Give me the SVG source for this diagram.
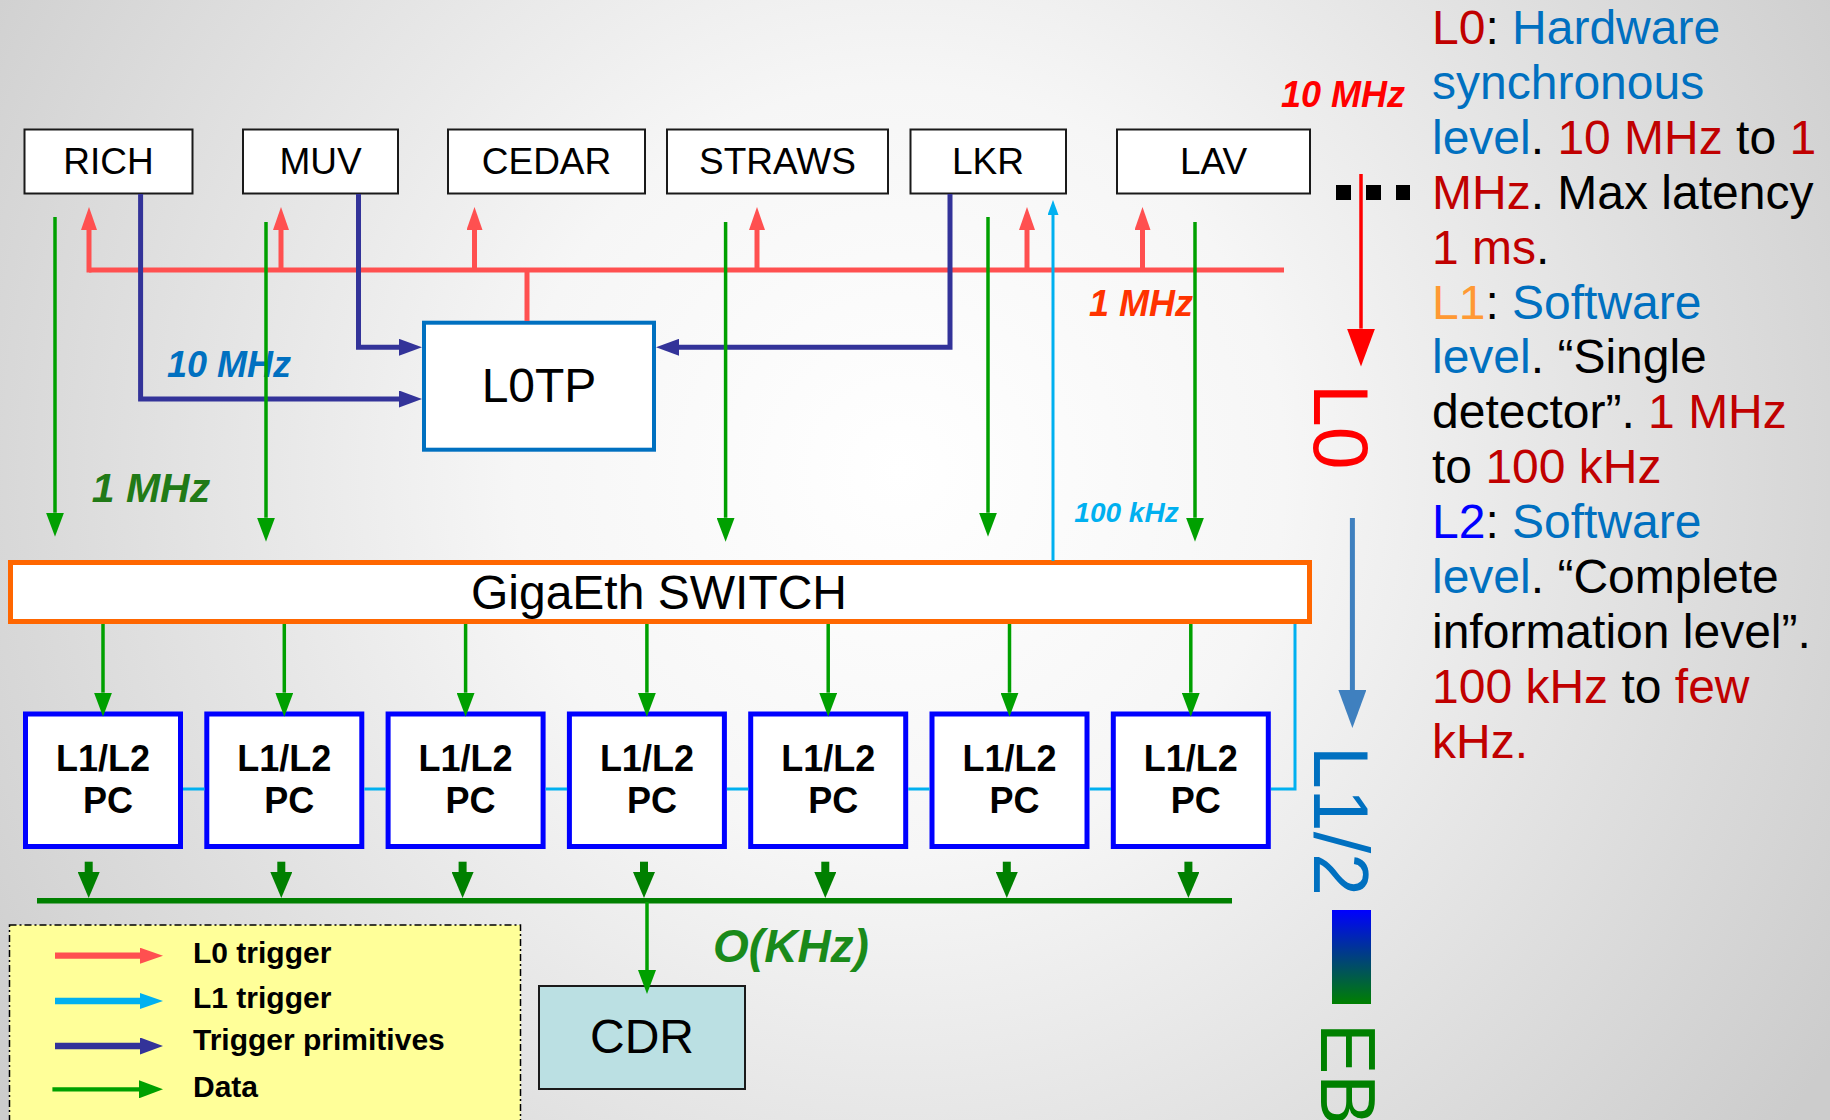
<svg xmlns="http://www.w3.org/2000/svg" width="1830" height="1120" viewBox="0 0 1830 1120">
<defs>
<radialGradient id="bg" gradientUnits="userSpaceOnUse" cx="900" cy="470" r="1100">
<stop offset="0" stop-color="#ffffff"/>
<stop offset="0.35" stop-color="#f6f6f6"/>
<stop offset="1" stop-color="#cccccc"/>
</radialGradient>
<linearGradient id="ebgrad" x1="0" y1="0" x2="0" y2="1">
<stop offset="0" stop-color="#0000ff"/>
<stop offset="1" stop-color="#008000"/>
</linearGradient>
<marker id="mRed" markerUnits="userSpaceOnUse" markerWidth="23" markerHeight="16" refX="0" refY="8" orient="auto" viewBox="0 0 23 16"><path d="M0,0 L23,8 L0,16 z" fill="#ff5050"/></marker>
<marker id="mNavy" markerUnits="userSpaceOnUse" markerWidth="23" markerHeight="17" refX="0" refY="8.5" orient="auto" viewBox="0 0 23 17"><path d="M0,0 L23,8.5 L0,17 z" fill="#333399"/></marker>
<marker id="mGreen" markerUnits="userSpaceOnUse" markerWidth="24" markerHeight="18" refX="0" refY="9" orient="auto" viewBox="0 0 24 18"><path d="M0,0 L24,9 L0,18 z" fill="#00a000"/></marker>
<marker id="mCyanS" markerUnits="userSpaceOnUse" markerWidth="15" markerHeight="11" refX="0" refY="5.5" orient="auto" viewBox="0 0 15 11"><path d="M0,0 L15,5.5 L0,11 z" fill="#00b0f0"/></marker>
<marker id="mCyan" markerUnits="userSpaceOnUse" markerWidth="23" markerHeight="16" refX="0" refY="8" orient="auto" viewBox="0 0 23 16"><path d="M0,0 L23,8 L0,16 z" fill="#00b0f0"/></marker>
<marker id="mDkGreen" markerUnits="userSpaceOnUse" markerWidth="26" markerHeight="22" refX="0" refY="11" orient="auto" viewBox="0 0 26 22"><path d="M0,0 L26,11 L0,22 z" fill="#008000"/></marker>
<marker id="mBigRed" markerUnits="userSpaceOnUse" markerWidth="38" markerHeight="28" refX="0" refY="14" orient="auto" viewBox="0 0 38 28"><path d="M0,0 L38,14 L0,28 z" fill="#ff0000"/></marker>
<marker id="mBigBlue" markerUnits="userSpaceOnUse" markerWidth="38" markerHeight="28" refX="0" refY="14" orient="auto" viewBox="0 0 38 28"><path d="M0,0 L38,14 L0,28 z" fill="#3f80bf"/></marker>
</defs>
<style>
text { font-family: "Liberation Sans", Arial, sans-serif; }
.det { fill: #ffffff; stroke: #1a1a1a; stroke-width: 2; }
.detT { font-size: 37px; fill: #000; text-anchor: middle; }
.pc { fill: #ffffff; stroke: #0000ff; stroke-width: 5; }
.pcT { font-size: 36px; font-weight: bold; fill: #000; text-anchor: middle; }
.rate { font-weight: bold; font-style: italic; text-anchor: middle; }
.red { fill: none; stroke: #ff5050; stroke-width: 5; }
.navy { fill: none; stroke: #333399; stroke-width: 5; }
.grn { fill: none; stroke: #00a000; stroke-width: 3.5; }
.cyan { fill: none; stroke: #00b0f0; stroke-width: 3; }
.dkg { fill: none; stroke: #008000; }
.vert { font-size: 77px; }
.side { font-size: 48px; fill: #000; }
.r { fill: #c00000; }
.b { fill: #0070c0; }
.legT { font-size: 30px; font-weight: bold; fill: #000; }
</style>
<rect x="0" y="0" width="1830" height="1120" fill="url(#bg)"/>

<g id="legend">
<rect x="9.5" y="925" width="511" height="210" fill="#ffff99" stroke="#000" stroke-width="1.5" stroke-dasharray="7 3 2 3"/>
<path d="M55,955.7 H140" stroke="#ff5050" stroke-width="6.3" fill="none" marker-end="url(#mRed)"/>
<path d="M55,1001 H140" stroke="#00b0f0" stroke-width="6.3" fill="none" marker-end="url(#mCyan)"/>
<path d="M55,1046 H140" stroke="#333399" stroke-width="6.3" fill="none" marker-end="url(#mNavy)"/>
<path d="M52.4,1089.3 H139" stroke="#00a000" stroke-width="4.3" fill="none" marker-end="url(#mGreen)"/>
<text class="legT" x="193" y="962.7">L0 trigger</text>
<text class="legT" x="193" y="1008.3">L1 trigger</text>
<text class="legT" x="193" y="1050">Trigger primitives</text>
<text class="legT" x="193" y="1096.7">Data</text>
</g>

<g id="detectors">
<g id="RICH"><rect class="det" x="24.5" y="129.5" width="168" height="64"/><text class="detT" x="108.5" y="174">RICH</text></g>
<g id="MUV"><rect class="det" x="243" y="129.5" width="155" height="64"/><text class="detT" x="320.5" y="174">MUV</text></g>
<g id="CEDAR"><rect class="det" x="448" y="129.5" width="197" height="64"/><text class="detT" x="546.5" y="174">CEDAR</text></g>
<g id="STRAWS"><rect class="det" x="667" y="129.5" width="221" height="64"/><text class="detT" x="777.5" y="174">STRAWS</text></g>
<g id="LKR"><rect class="det" x="910.5" y="129.5" width="155.5" height="64"/><text class="detT" x="988" y="174">LKR</text></g>
<g id="LAV"><rect class="det" x="1117" y="129.5" width="193" height="64"/><text class="detT" x="1213.5" y="174">LAV</text></g>
</g>

<g id="L0TP"><rect x="424" y="322.7" width="230" height="127" fill="#ffffff" stroke="#0070c0" stroke-width="4"/><text x="539" y="401.7" font-size="48" text-anchor="middle" fill="#000">L0TP</text></g>

<g id="switch"><rect x="10.5" y="562.5" width="1299" height="59" fill="#ffffff" stroke="#ff6600" stroke-width="5"/><text x="659" y="609" font-size="48" text-anchor="middle" fill="#000">GigaEth SWITCH</text></g>

<g id="pcs">
<g id="pc1"><rect class="pc" x="25.5" y="714" width="155" height="132.5"/><text class="pcT" x="103" y="771">L1/L2</text><text class="pcT" x="108" y="813">PC</text></g>
<g id="pc2"><rect class="pc" x="206.8" y="714" width="155" height="132.5"/><text class="pcT" x="284.3" y="771">L1/L2</text><text class="pcT" x="289.3" y="813">PC</text></g>
<g id="pc3"><rect class="pc" x="388.1" y="714" width="155" height="132.5"/><text class="pcT" x="465.6" y="771">L1/L2</text><text class="pcT" x="470.6" y="813">PC</text></g>
<g id="pc4"><rect class="pc" x="569.4" y="714" width="155" height="132.5"/><text class="pcT" x="646.9" y="771">L1/L2</text><text class="pcT" x="651.9" y="813">PC</text></g>
<g id="pc5"><rect class="pc" x="750.7" y="714" width="155" height="132.5"/><text class="pcT" x="828.2" y="771">L1/L2</text><text class="pcT" x="833.2" y="813">PC</text></g>
<g id="pc6"><rect class="pc" x="932" y="714" width="155" height="132.5"/><text class="pcT" x="1009.5" y="771">L1/L2</text><text class="pcT" x="1014.5" y="813">PC</text></g>
<g id="pc7"><rect class="pc" x="1113.3" y="714" width="155" height="132.5"/><text class="pcT" x="1190.8" y="771">L1/L2</text><text class="pcT" x="1195.8" y="813">PC</text></g>
</g>

<g id="CDR"><rect x="539" y="986" width="206" height="103" fill="#bbe0e3" stroke="#1a1a1a" stroke-width="2"/><text x="642" y="1053" font-size="48" text-anchor="middle" fill="#000">CDR</text></g>

<g id="rate-labels">
<text class="rate" x="229" y="377" font-size="36" fill="#0070c0">10 MHz</text>
<text class="rate" x="151" y="502" font-size="41" fill="#217a17">1 MHz</text>
<text class="rate" x="1141" y="316" font-size="36" fill="#ff3300">1 MHz</text>
<text class="rate" x="1343" y="106.7" font-size="36" fill="#ff0000">10 MHz</text>
<text class="rate" x="1126.5" y="521.7" font-size="28" fill="#00b0f0">100 kHz</text>
<text class="rate" x="791" y="962" font-size="46" fill="#1a8a1a">O(KHz)</text>
</g>

<g id="connectors">
<line class="red" x1="89" y1="270" x2="1284" y2="270"/>
<path class="red" d="M89,272.5 V230" marker-end="url(#mRed)"/>
<path class="red" d="M281,270 V230" marker-end="url(#mRed)"/>
<path class="red" d="M474.5,270 V230" marker-end="url(#mRed)"/>
<path class="red" d="M757,270 V230" marker-end="url(#mRed)"/>
<path class="red" d="M1027,270 V230" marker-end="url(#mRed)"/>
<path class="red" d="M1142.5,270 V230" marker-end="url(#mRed)"/>
<line class="red" x1="527" y1="270" x2="527" y2="321"/>

<path class="navy" d="M140.6,194 V399 H399" marker-end="url(#mNavy)"/>
<path class="navy" d="M358.5,194 V347.3 H399" marker-end="url(#mNavy)"/>
<path class="navy" d="M950,194 V347.3 H679" marker-end="url(#mNavy)"/>

<path class="grn" d="M55,217 V512.7" marker-end="url(#mGreen)"/>
<path class="grn" d="M266,222 V517.7" marker-end="url(#mGreen)"/>
<path class="grn" d="M725.6,222 V517.7" marker-end="url(#mGreen)"/>
<path class="grn" d="M988,217 V512.7" marker-end="url(#mGreen)"/>
<path class="grn" d="M1195,222 V517.7" marker-end="url(#mGreen)"/>

<path class="cyan" d="M1053,561 V215" marker-end="url(#mCyanS)"/>
<path class="cyan" d="M1295,624 V789 H1271"/>
<line class="cyan" x1="183" y1="789" x2="204.5" y2="789"/>
<line class="cyan" x1="364.3" y1="789" x2="385.8" y2="789"/>
<line class="cyan" x1="545.6" y1="789" x2="567.1" y2="789"/>
<line class="cyan" x1="726.9" y1="789" x2="748.4" y2="789"/>
<line class="cyan" x1="908.2" y1="789" x2="929.7" y2="789"/>
<line class="cyan" x1="1089.5" y1="789" x2="1111" y2="789"/>

<path class="grn" d="M103,624 V692.7" marker-end="url(#mGreen)"/>
<path class="grn" d="M284.3,624 V692.7" marker-end="url(#mGreen)"/>
<path class="grn" d="M465.6,624 V692.7" marker-end="url(#mGreen)"/>
<path class="grn" d="M646.9,624 V692.7" marker-end="url(#mGreen)"/>
<path class="grn" d="M828.2,624 V692.7" marker-end="url(#mGreen)"/>
<path class="grn" d="M1009.5,624 V692.7" marker-end="url(#mGreen)"/>
<path class="grn" d="M1190.8,624 V692.7" marker-end="url(#mGreen)"/>

<path class="dkg" stroke-width="8" d="M88.7,861.7 V872" marker-end="url(#mDkGreen)"/>
<path class="dkg" stroke-width="8" d="M281.3,861.7 V872" marker-end="url(#mDkGreen)"/>
<path class="dkg" stroke-width="8" d="M462.6,861.7 V872" marker-end="url(#mDkGreen)"/>
<path class="dkg" stroke-width="8" d="M644,861.7 V872" marker-end="url(#mDkGreen)"/>
<path class="dkg" stroke-width="8" d="M825.3,861.7 V872" marker-end="url(#mDkGreen)"/>
<path class="dkg" stroke-width="8" d="M1006.8,861.7 V872" marker-end="url(#mDkGreen)"/>
<path class="dkg" stroke-width="8" d="M1188.4,861.7 V872" marker-end="url(#mDkGreen)"/>
<line class="dkg" stroke-width="5.5" x1="37" y1="900.7" x2="1232" y2="900.7"/>
<path class="grn" stroke-width="4" d="M647,902 V970" marker-end="url(#mGreen)"/>
</g>

<g id="levels">
<rect x="1336" y="185" width="15" height="15" fill="#000"/>
<rect x="1366" y="185" width="15" height="15" fill="#000"/>
<rect x="1396" y="185" width="14" height="15" fill="#000"/>
<path d="M1361,174 V328.6" stroke="#ff0000" stroke-width="3.5" fill="none" marker-end="url(#mBigRed)"/>
<path d="M1352.4,518 V690" stroke="#3f80bf" stroke-width="5" fill="none" marker-end="url(#mBigBlue)"/>
<text class="vert" transform="translate(1314,384) rotate(90)" fill="#ff0000">L0</text>
<text class="vert" transform="translate(1314,746) rotate(90)" fill="#0070c0">L1/2</text>
<rect x="1332" y="910" width="39" height="94" fill="url(#ebgrad)"/>
<text class="vert" transform="translate(1321,1023) rotate(90)" fill="#008000">EB</text>
</g>

<g id="description">
<text class="side" x="1432" y="44"><tspan class="r">L0</tspan><tspan>: </tspan><tspan class="b">Hardware</tspan></text>
<text class="side" x="1432" y="98.9"><tspan class="b">synchronous</tspan></text>
<text class="side" x="1432" y="153.8"><tspan class="b">level</tspan><tspan>. </tspan><tspan class="r">10 MHz</tspan><tspan> to </tspan><tspan class="r">1</tspan></text>
<text class="side" x="1432" y="208.7"><tspan class="r">MHz</tspan><tspan>. Max latency</tspan></text>
<text class="side" x="1432" y="263.6"><tspan class="r">1 ms</tspan><tspan>.</tspan></text>
<text class="side" x="1432" y="318.5"><tspan fill="#ff9933">L1</tspan><tspan>: </tspan><tspan class="b">Software</tspan></text>
<text class="side" x="1432" y="373.4"><tspan class="b">level</tspan><tspan>. “Single</tspan></text>
<text class="side" x="1432" y="428.3"><tspan>detector”. </tspan><tspan class="r">1 MHz</tspan></text>
<text class="side" x="1432" y="483.2"><tspan>to </tspan><tspan class="r">100 kHz</tspan></text>
<text class="side" x="1432" y="538.1"><tspan fill="#0000ff">L2</tspan><tspan>: </tspan><tspan class="b">Software</tspan></text>
<text class="side" x="1432" y="593"><tspan class="b">level</tspan><tspan>. “Complete</tspan></text>
<text class="side" x="1432" y="647.9">information level”.</text>
<text class="side" x="1432" y="702.8"><tspan class="r">100 kHz</tspan><tspan> to </tspan><tspan class="r">few</tspan></text>
<text class="side" x="1432" y="757.7"><tspan class="r">kHz.</tspan></text>
</g>
</svg>
